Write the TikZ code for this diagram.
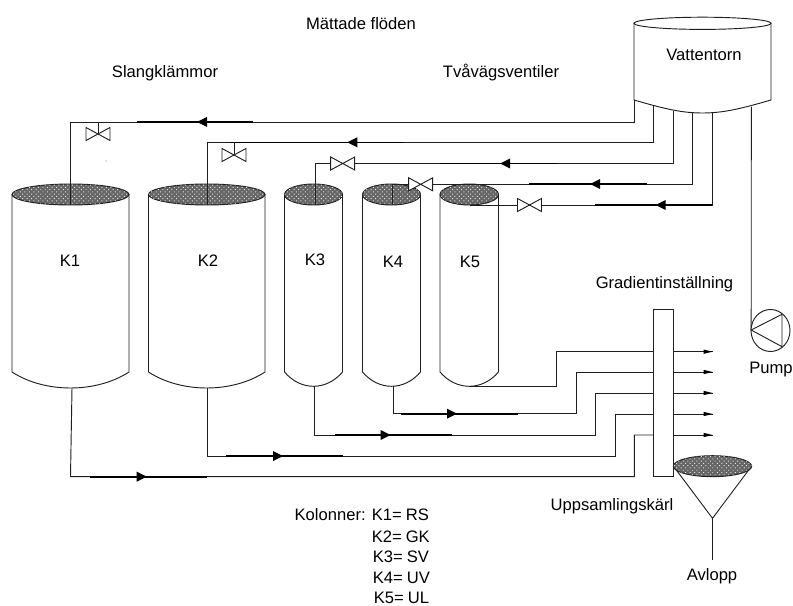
\documentclass[tikz,border=0pt]{standalone}
\usepackage{fontspec}
\setmainfont{Liberation Sans}
\usetikzlibrary{patterns,patterns.meta}
\definecolor{ln}{gray}{0.12}
\tikzset{
  x=0.75pt,y=-0.75pt,
  pipe/.style={draw=ln,line width=0.7pt,line join=miter},
  hvy/.style={draw=black,line width=1.5pt},
  vessel/.style={draw=ln,line width=0.7pt,fill=white},
  surface/.style={draw=ln,line width=0.7pt,fill=black!60,postaction={pattern={Dots[radius=0.5pt,distance=2.4pt,angle=45]},pattern color=white!90!black}},
  lbl/.style={font=\fontsize{12.45}{14}\selectfont,text=black,inner sep=0pt,anchor=center},
  pics/valve/.style={code={
    \draw[draw=ln,line width=0.7pt,fill=white] (0,0) -- (-12,-6.5) -- (-12,6.5) -- cycle;
    \draw[draw=ln,line width=0.7pt,fill=white] (0,0) -- (12,-6.5) -- (12,6.5) -- cycle;}},
  pics/head/.style={code={\fill[black] (0,0) -- (-10,-5) -- (-10,5) -- cycle;}},
  pics/tiphead/.style={code={\fill[black] (0,0) -- (-9,-2.2) -- (-9,2.2) -- cycle;}},
}
\newcommand{\column}[5]{% left, right, top-centre y, body bottom y, arc bottom y
  \path[vessel] (#1,#3) -- (#1,#4) .. controls ({#1+(#2-#1)*0.28},{#4+(#5-#4)*1.3333}) and ({#1+(#2-#1)*0.72},{#4+(#5-#4)*1.3333}) .. (#2,#4) -- (#2,#3) -- cycle;
}
\begin{document}
\begin{tikzpicture}
\useasboundingbox (0,0) rectangle (793,606);
% anchors
\coordinate (t1) at (634,100);
\coordinate (t2) at (653.7,106);
\coordinate (t3) at (673,111);
\coordinate (t4) at (692.7,113);
\coordinate (t5) at (712.3,113);
\coordinate (t6) at (751.3,107);
\coordinate (k1t) at (70.5,205);
\coordinate (k2t) at (207.5,205);
\coordinate (k3t) at (315.5,205);
\coordinate (k4t) at (392.5,205);
\coordinate (k5t) at (470,205);
\coordinate (k1b) at (72,388);
\coordinate (k2b) at (207,388);
\coordinate (k3b) at (314.5,386.3);
\coordinate (k4b) at (393,386.3);
\coordinate (k5b) at (469,386.3);
\coordinate (boxW1) at (653.7,351.7);
\coordinate (boxW2) at (653.7,372);
\coordinate (boxW3) at (653.7,393);
\coordinate (boxW4) at (653.7,414);
\coordinate (boxW5) at (653.7,435);
\coordinate (boxE1) at (673.3,351.7);
\coordinate (boxE2) at (673.3,372);
\coordinate (boxE3) at (673.3,393);
\coordinate (boxE4) at (673.3,414);
\coordinate (boxE5) at (673.3,435);
\coordinate (o1) at (712.5,351.7);
\coordinate (o2) at (712.5,372);
\coordinate (o3) at (712.5,393);
\coordinate (o4) at (712.5,414);
\coordinate (o5) at (712.5,435);
\coordinate (pumpin) at (751.2,330);
\coordinate (apex) at (712.5,518.3);
\coordinate (drain) at (712.5,560);
% columns
\column{12}{129}{194.5}{372}{388}
\column{148.5}{265}{194.5}{372}{388}
\column{284.5}{342.5}{194.5}{372}{386.3}
\column{362.5}{420.5}{194.5}{372}{386.3}
\column{440}{498.5}{194.5}{372}{386.3}
\draw[surface] (70.5,194.5) ellipse (58.5 and 10.5);
\draw[surface] (206.75,194.5) ellipse (58.25 and 10.5);
\draw[surface] (313.5,194.5) ellipse (29 and 10.5);
\draw[surface] (391.5,194.5) ellipse (29 and 10.5);
\draw[surface] (469.25,194.5) ellipse (29.25 and 10.5);
% water tower
\path[vessel] (634,23) -- (t1) .. controls (665,109) and (682,113) .. (702.5,113) .. controls (723,113) and (740,109) .. (771,100) -- (771,23) -- cycle;
\draw[vessel] (702.5,23.3) ellipse (68.5 and 6.1);
% feed pipes
\draw[pipe] (t1) -- (634,122) -- (70.5,122) -- (k1t);
\draw[pipe] (t2) -- (653.7,142.3) -- (207.5,142.3) -- (k2t);
\draw[pipe] (t3) -- (673,163.5) -- (315.5,163.5) -- (k3t);
\draw[pipe] (t4) -- (692.7,184) -- (392.5,184) -- (k4t);
\draw[pipe] (t5) -- (712.3,205) -- (k5t);
% heavy sections of feed pipes
\draw[hvy] (136.7,122) -- (253,122);
\draw[draw=black,line width=0.8pt] (230,142.3) -- (403,142.3);
\draw[draw=black,line width=0.8pt] (440,163.5) -- (557,163.5);
\draw[hvy] (529,184) -- (646.7,184);
\draw[hvy] (595,205) -- (712.3,205);
\pic at (197,122) [rotate=180] {head};
\pic at (347.3,142.3) [rotate=180] {head};
\pic at (500,163.5) [rotate=180] {head};
\pic at (590,184) [rotate=180] {head};
\pic at (655.7,205) [rotate=180] {head};
% valves
\draw[pipe] (98,122) -- (98,134);
\draw[pipe] (234,142.3) -- (234,155);
\pic (v1) at (98,134) {valve};
\pic (v2) at (234,155) {valve};
\pic (v3) at (342.7,163.5) {valve};
\pic (v4) at (420.7,184.3) {valve};
\pic (v5) at (529.5,205) {valve};
\fill[gray] (106,161) circle (0.6);
% outflow pipes
\draw[pipe] (k5b) -- (556.5,386.3) -- (556.5,351.7) -- (boxW1);
\draw[pipe] (k4b) -- (393,413.7) -- (576,413.7) -- (576,372) -- (boxW2);
\draw[pipe] (k3b) -- (314.5,435) -- (595.7,435) -- (595.7,393) -- (boxW3);
\draw[pipe] (k2b) -- (207,456) -- (615,456) -- (615,414) -- (boxW4);
\draw[pipe] (k1b) -- (70.5,476.7) -- (634.3,476.7) -- (634.3,435) -- (boxW5);
\draw[hvy] (400.5,413.7) -- (518,413.7);
\draw[hvy] (335,435) -- (452,435);
\draw[hvy] (226,456) -- (343,456);
\draw[hvy] (90,476.7) -- (207,476.7);
\pic at (457,413.7) {head};
\pic at (390.5,435) {head};
\pic at (283,456) {head};
\pic at (146.7,476.7) {head};
% gradient box
\draw[vessel] (653.7,309.3) rectangle (673.3,476.7);
\foreach \i in {1,...,5}{
  \draw[pipe] (boxE\i) -- (o\i);
  \pic at (o\i) {tiphead};
}
% pump
\draw[pipe] (t6) -- (pumpin);
\draw[vessel] (770.5,330.5) ellipse (19.5 and 21);
\draw[pipe] (pumpin) -- (782,314.3) -- (782,346.7) -- cycle;
% funnel
\draw[pipe] (673.3,466) -- (apex) -- (751.7,466);
\draw[surface] (712.5,466.2) ellipse (39.2 and 10.5);
\draw[pipe] (apex) -- (drain);
% labels
\node[lbl] (title) at (361,24) {Mättade flöden};
\node[lbl] (slang) at (165,73) {Slangklämmor};
\node[lbl] (tva) at (501,73) {Tvåvägsventiler};
\node[lbl] (vatten) at (704,55) {Vattentorn};
\node[lbl] (lk1) at (70,261) {K1};
\node[lbl] (lk2) at (208,261) {K2};
\node[lbl] (lk3) at (315,260) {K3};
\node[lbl] (lk4) at (393,262) {K4};
\node[lbl] (lk5) at (470,262) {K5};
\node[lbl] (grad) at (664.5,284) {Gradientinställning};
\node[lbl] (pump) at (771,370) {Pump};
\node[lbl] (upp) at (612,506) {Uppsamlingskärl};
\node[lbl] (avl) at (712,576) {Avlopp};
\node[lbl,anchor=east] (kol) at (366,514.5) {Kolonner:};
\node[lbl,anchor=west] (c1) at (371.5,514.5) {K1=};
\node[lbl,anchor=west] (v1t) at (405.5,514.5) {RS};
\node[lbl,anchor=west] (c2) at (371.5,537) {K2=};
\node[lbl,anchor=west] (v2t) at (405.5,537) {GK};
\node[lbl,anchor=west] (c3) at (372.5,557) {K3=};
\node[lbl,anchor=west] (v3t) at (406.5,557) {SV};
\node[lbl,anchor=west] (c4) at (372.5,578) {K4=};
\node[lbl,anchor=west] (v4t) at (406.5,578) {UV};
\node[lbl,anchor=west] (c5) at (373.5,598) {K5=};
\node[lbl,anchor=west] (v5t) at (407.5,598) {UL};
\end{tikzpicture}
\end{document}
